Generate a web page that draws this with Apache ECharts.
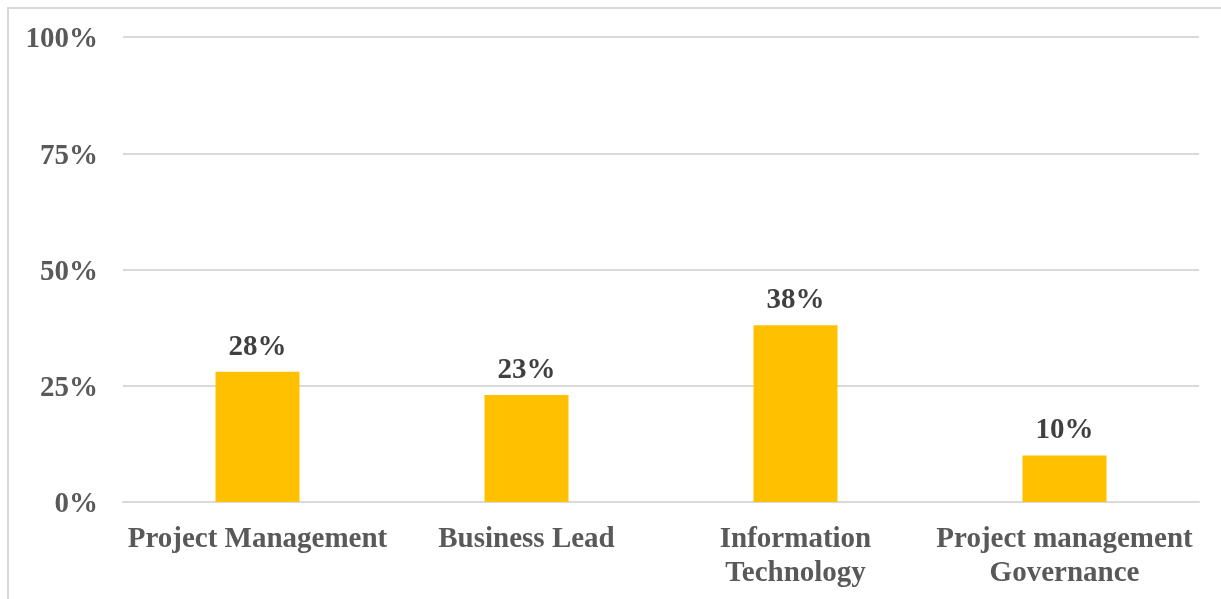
<!DOCTYPE html>
<html>
<head>
<meta charset="utf-8">
<script src="https://cdn.jsdelivr.net/npm/echarts@6/dist/echarts.min.js"></script>
<style>
  html, body { margin: 0; padding: 0; background: #fff; }
  #frame { position: absolute; left: 7px; top: 7px; width: 1230px; height: 610px; border: 2px solid #d9d9d9; box-sizing: border-box; }
  #chart { position: absolute; left: 0; top: 0; width: 1221px; height: 599px; }
</style>
</head>
<body>
<div id="frame"></div>
<div id="chart"></div>
<script>
// Share of responses by role
const categories = ['Project Management', 'Business Lead', 'Information\nTechnology', 'Project management\nGovernance'];
const shares = [28, 23, 38, 10];
const yTicks = [0, 25, 50, 75, 100];

const font = '"Liberation Serif", "Times New Roman", serif';
const chart = echarts.init(document.getElementById('chart'), null, { renderer: 'canvas' });
chart.setOption({
  animation: false,
  grid: { left: 123, right: 22, top: 37, bottom: 97 },
  xAxis: {
    type: 'category',
    data: categories,
    axisLine: { show: true, lineStyle: { color: '#d9d9d9', width: 2 } },
    axisTick: { show: false },
    axisLabel: {
      color: '#595959', fontFamily: font, fontWeight: 'bold', fontSize: 29,
      lineHeight: 34, margin: 21, interval: 0
    }
  },
  yAxis: {
    type: 'value',
    min: yTicks[0], max: yTicks[yTicks.length - 1], interval: 25,
    axisLine: { show: false },
    axisTick: { show: false },
    splitLine: { lineStyle: { color: '#d9d9d9', width: 2 } },
    axisLabel: {
      color: '#595959', fontFamily: font, fontWeight: 'bold', fontSize: 29,
      margin: 25, formatter: v => '{t|' + v + '%}',
      rich: {
        t: { color: '#595959', fontFamily: font, fontWeight: 'bold', fontSize: 29, padding: [6, 0, 0, 0] }
      }
    }
  },
  series: [{
    type: 'bar',
    data: shares,
    barWidth: 84,
    itemStyle: { color: '#ffc000' },
    label: {
      show: true, position: 'top', distance: 10,
      color: '#404040', fontFamily: font, fontWeight: 'bold', fontSize: 29,
      formatter: p => p.value + '%'
    }
  }]
});
</script>
</body>
</html>
